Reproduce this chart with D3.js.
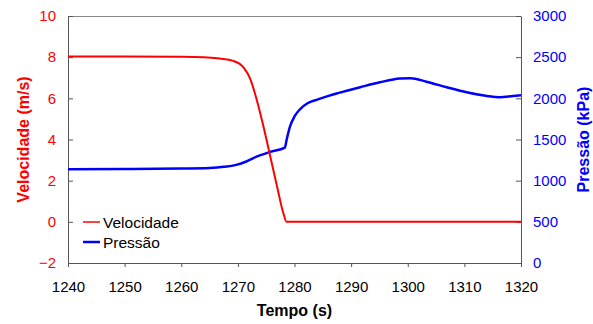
<!DOCTYPE html>
<html>
<head>
<meta charset="utf-8">
<script src="https://cdn.jsdelivr.net/npm/d3@7"></script>
<style>
  html, body { margin: 0; padding: 0; background: #fff; }
  svg { display: block; font-family: "Liberation Sans", Arial, sans-serif; }
</style>
</head>
<body>
<svg id="chart" width="593" height="324"></svg>
<script>
// Velocity series (m/s) over time (s)
const velTime = [1240, 1250, 1260, 1264, 1266.8, 1269.2, 1271.0, 1272.2, 1273.3, 1274.5, 1275.7, 1276.9, 1278.0, 1278.6, 1290, 1300, 1310, 1320];
const velValues = [8.03, 8.03, 8.02, 8.0, 7.93, 7.82, 7.50, 6.93, 5.96, 4.66, 3.20, 1.74, 0.45, 0.0, 0.0, 0.0, 0.0, 0.0];

// Pressure series (kPa) over time (s)
const presTime = [1240, 1250, 1260, 1265, 1267.5, 1269.7, 1271.5, 1273.3, 1275.7, 1278.3, 1278.6, 1279.2, 1280.0, 1281.0, 1282.3, 1284.0, 1286.0, 1288.0, 1291.6, 1295.1, 1298.6, 1300.5, 1303.3, 1306.9, 1310.4, 1314.0, 1316.3, 1318.6, 1320];
const presValues = [1140, 1142, 1148, 1155, 1168, 1192, 1233, 1291, 1350, 1402, 1494, 1656, 1780, 1870, 1940, 1985, 2030, 2069, 2135, 2195, 2240, 2245, 2202, 2134, 2073, 2028, 2012, 2028, 2037];

// Axis ticks
const xTicks = [1240, 1250, 1260, 1270, 1280, 1290, 1300, 1310, 1320];
const velTicks = [-2, 0, 2, 4, 6, 8, 10];
const presTicks = [0, 500, 1000, 1500, 2000, 2500, 3000];

const seriesNames = ["Velocidade", "Pressão"];
const seriesColors = ["#ff0000", "#0000ff"];

const svg = d3.select("#chart");
const plotLeft = 68, plotRight = 521, plotTop = 16, plotBottom = 263;

const x = d3.scaleLinear().domain([1240, 1320]).range([plotLeft, plotRight]);
const yV = d3.scaleLinear().domain([-2, 10]).range([plotBottom, plotTop]);
const yP = d3.scaleLinear().domain([0, 3000]).range([plotBottom, plotTop]);

const axisColor = "#555";

// Frame top line
svg.append("line")
  .attr("x1", plotLeft).attr("x2", plotRight).attr("y1", plotTop + 0.5).attr("y2", plotTop + 0.5)
  .attr("stroke", "#888").attr("stroke-width", 1);

// Bottom axis
const gx = svg.append("g").attr("transform", `translate(0,${plotBottom})`)
  .call(d3.axisBottom(x).tickValues(xTicks).tickFormat(d3.format("d")).tickSize(4).tickPadding(14));
gx.select(".domain").attr("stroke", axisColor);
gx.selectAll(".tick line").attr("stroke", axisColor);
gx.selectAll(".tick text").attr("fill", "#000").attr("font-size", 15);

// Left axis (velocity)
const gl = svg.append("g").attr("transform", `translate(${plotLeft},0)`)
  .call(d3.axisLeft(yV).tickValues(velTicks).tickFormat(d3.format("d")).tickSize(-5).tickPadding(12).tickSizeOuter(0));
gl.select(".domain").attr("stroke", axisColor);
gl.selectAll(".tick line").attr("stroke", axisColor);
gl.selectAll(".tick text").attr("fill", "#ff0000").attr("font-size", 15);

// Right axis (pressure)
const gr = svg.append("g").attr("transform", `translate(${plotRight},0)`)
  .call(d3.axisRight(yP).tickValues(presTicks).tickFormat(d3.format("d")).tickSize(-5).tickPadding(12).tickSizeOuter(0));
gr.select(".domain").attr("stroke", axisColor);
gr.selectAll(".tick line").attr("stroke", axisColor);
gr.selectAll(".tick text").attr("fill", "#0000ff").attr("font-size", 15);

// Axis titles
svg.append("text")
  .attr("transform", `translate(29,${(plotTop + plotBottom) / 2}) rotate(-90)`)
  .attr("text-anchor", "middle")
  .attr("font-size", 16).attr("font-weight", "bold").attr("fill", "#ff0000")
  .text("Velocidade (m/s)");

svg.append("text")
  .attr("transform", `translate(589,${(plotTop + plotBottom) / 2}) rotate(-90)`)
  .attr("text-anchor", "middle")
  .attr("font-size", 16).attr("font-weight", "bold").attr("fill", "#0000ff")
  .text("Pressão (kPa)");

svg.append("text")
  .attr("x", (plotLeft + plotRight) / 2).attr("y", 316)
  .attr("text-anchor", "middle")
  .attr("font-size", 16).attr("font-weight", "bold").attr("fill", "#000")
  .text("Tempo (s)");

// Series lines
const velLine = d3.line()
  .x((d, i) => x(velTime[i]))
  .y(d => yV(d))
  .curve(d3.curveMonotoneX);

const presLine = d3.line()
  .x((d, i) => x(presTime[i]))
  .y(d => yP(d))
  .curve(d3.curveMonotoneX);

svg.append("path")
  .attr("d", presLine(presValues))
  .attr("fill", "none").attr("stroke", seriesColors[1]).attr("stroke-width", 2.5);

svg.append("path")
  .attr("d", velLine(velValues))
  .attr("fill", "none").attr("stroke", seriesColors[0]).attr("stroke-width", 2);

// Legend
const legend = svg.append("g");
seriesNames.forEach((name, i) => {
  const ly = 222 + i * 20;
  legend.append("line")
    .attr("x1", 83).attr("x2", 100).attr("y1", ly).attr("y2", ly)
    .attr("stroke", seriesColors[i]).attr("stroke-width", i === 0 ? 1.5 : 2.5);
  legend.append("text")
    .attr("x", 103).attr("y", ly + 5.5)
    .attr("font-size", 15.5).attr("fill", "#000")
    .text(name);
});
</script>
</body>
</html>
